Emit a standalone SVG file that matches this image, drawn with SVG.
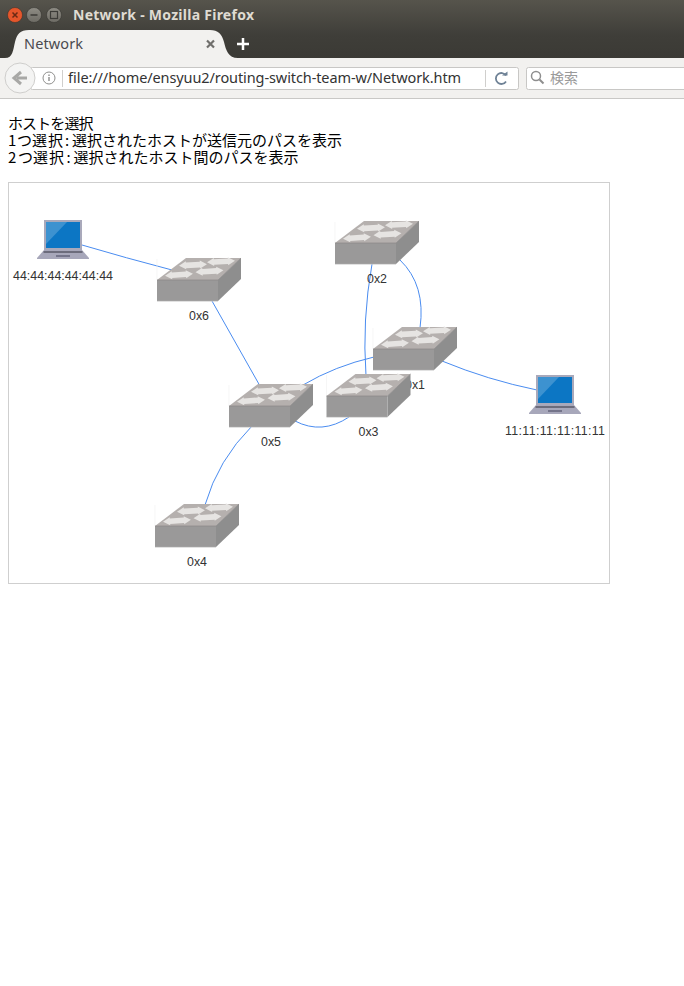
<svg xmlns="http://www.w3.org/2000/svg" width="684" height="986" viewBox="0 0 684 986">
<style>
text{font-family:"Liberation Sans",Arial,sans-serif}
.page{font-family:"Noto Sans CJK JP","Liberation Sans",sans-serif;font-size:15px;fill:#000}
.lbl{font-size:12.4px;fill:#333;text-anchor:middle}
.ui{font-family:"Noto Sans","Noto Sans CJK JP",sans-serif}
.link{fill:none;stroke:#4a8cf0;stroke-width:1}
.wb{stroke:#2f2e2a;stroke-width:.5}
</style>
<defs>
<linearGradient id="tb" x1="0" y1="0" x2="0" y2="1"><stop offset="0" stop-color="#56544c"/><stop offset=".6" stop-color="#3f3e39"/><stop offset="1" stop-color="#3b3a35"/></linearGradient>
<linearGradient id="wg" x1="0" y1="0" x2="0" y2="1"><stop offset="0" stop-color="#8f8d85"/><stop offset="1" stop-color="#6d6b64"/></linearGradient>
<polygon id="ar" points="0,0 7,-4 7,-2.800 21,-2.800 21,-4 28,0 21,4 21,2.800 7,2.800 7,4" fill="#e6e4e2"/>
<symbol id="sw" overflow="visible">
<path d="M0-21V0" stroke="#f0f0f0" stroke-width=".6" fill="none"/>
<polygon points="0,0 29,-22 84,-22 61,0" fill="#b5b0ae"/>
<polygon points="61,0 84,-22 84,-1 61,21" fill="#8e8e8e"/>
<rect x="0" y="0" width="61" height="21" fill="#9a9999"/>
<path d="M0 0H61L84-22" fill="none" stroke="#8a8686" stroke-width=".7"/>
<path d="M0 21.300H61" stroke="#c8c8c8" stroke-width=".7"/>
<use href="#ar" transform="translate(22 -14.300) rotate(-3)"/>
<use href="#ar" transform="translate(50 -17.700) rotate(-3)"/>
<use href="#ar" transform="translate(8 -4.300) rotate(-4)"/>
<use href="#ar" transform="translate(38.500 -7.700) rotate(-4)"/>
</symbol>
<symbol id="pc" overflow="visible">
<rect x="7" y="0" width="38" height="30" fill="#a9a9bb"/>
<rect x="9" y="2" width="34" height="26" fill="#0c76c4"/>
<polygon points="9,2 30,2 9,24" fill="#3d92d0"/>
<polygon points="7,30 45,30 52,38 52,39 0,39 0,38" fill="#a7a7ba"/>
<rect x="6.500" y="31" width="39" height="2" fill="#6c6c7c"/>
<rect x="19" y="35" width="14" height="2" fill="#74748a"/>
</symbol>
</defs>
<rect width="684" height="986" fill="#fff"/>
<g id="browser">
<rect width="684" height="58" fill="url(#tb)"/>
<rect y="58" width="684" height="40" fill="#f2f1ef"/>
<rect y="98" width="684" height="1" fill="#c9c8c6"/>
<path d="M0 58H5C13 58 13 50 15 42C17 34 20 30 29 30H210C218 30 222 34 224 42C226 50 228 58 238 58Z" fill="#f2f1ef"/>
<circle cx="15" cy="15" r="7.500" fill="#e5562b" class="wb"/>
<path d="M12.500 12.500l5 5M17.500 12.500l-5 5" stroke="#6b2a14" stroke-width="1.500"/>
<circle cx="34" cy="15" r="7.500" fill="url(#wg)" class="wb"/>
<path d="M30.500 15h7" stroke="#3c3b37" stroke-width="1.500"/>
<circle cx="54" cy="15" r="7.500" fill="url(#wg)" class="wb"/>
<rect x="50.500" y="11.500" width="7" height="7" fill="none" stroke="#3c3b37" stroke-width="1.200"/>
<text class="ui" x="73" y="20" font-size="14" font-weight="700" fill="#dfdbd2" textLength="181">Network - Mozilla Firefox</text>
<text class="ui" x="24" y="49" font-size="14.500" fill="#4a4a50" textLength="59">Network</text>
<path d="M207 40.500l7 7M214 40.500l-7 7" stroke="#706f6c" stroke-width="2.200"/>
<path d="M243 38v12M237 44h12" stroke="#fff" stroke-width="2.500"/>
<rect x="30.500" y="67.500" width="488" height="22" rx="2" fill="#fff" stroke="#c8c7c5"/>
<circle cx="20" cy="78" r="15" fill="#f4f4f3" stroke="#cfcecc"/>
<path d="M27 78H17M21 72l-7 6 7 6" fill="none" stroke="#a8a8a6" stroke-width="3"/>
<circle cx="49" cy="78" r="6" fill="none" stroke="#8f8f8d"/>
<path d="M49 77v4M49 74.500v1.500" stroke="#7a7a78" stroke-width="1.200"/>
<path d="M62.500 70v17M485.500 70v17" stroke="#d0cfcd"/>
<text class="ui" x="68" y="83" font-size="14.500" fill="#333" textLength="393">file:///home/ensyuu2/routing-switch-team-w/Network.htm</text>
<path d="M506 75.500A5.500 5.500 0 1 0 506 81.500" fill="none" stroke="#6f8296" stroke-width="1.800"/>
<path d="M502 75.500h5.500v-4z" fill="#6f8296"/>
<rect x="526.500" y="67.500" width="170" height="22" rx="2" fill="#fff" stroke="#c8c7c5"/>
<circle cx="536" cy="76" r="4.500" fill="none" stroke="#8e8e8e" stroke-width="1.500"/>
<path d="M539.500 79.500l4 4" stroke="#8e8e8e" stroke-width="2"/>
<text class="ui" x="550" y="83" font-size="14" fill="#9a9a9a">検索</text>
</g>
<g id="instructions">
<text class="page" x="8" y="129" textLength="85.500" lengthAdjust="spacing">ホストを選択</text>
<text class="page" x="8 17 32 48 65" y="146">1つ選択:<tspan x="72">選択されたホストが送信元のパスを表示</tspan></text>
<text class="page" x="8 18 33 49 66.500" y="163">2つ選択:<tspan x="73.500">選択されたホスト間のパスを表示</tspan></text>
</g>
<rect id="canvas" x="8.500" y="182.500" width="601" height="401" fill="#fff" stroke="#cfcfcf"/>
<g id="connectors">
<path class="link" d="M82 245Q126 258 172 270"/>
<path class="link" d="M212 301L260 386"/>
<path class="link" d="M252 426Q218 460 205 505"/>
<path class="link" d="M303 385Q335 366 374 357"/>
<path class="link" d="M295 421Q322 435 349 417"/>
<path class="link" d="M372 264Q362 320 366 376"/>
<path class="link" d="M400 260Q426 285 420 328"/>
<path class="link" d="M442 361Q488 380 537 390"/>
</g>
<g id="host-44"><use href="#pc" x="37" y="220"/><text class="lbl" x="63" y="280" textLength="100">44:44:44:44:44:44</text></g>
<g id="sw-0x6"><use href="#sw" x="157" y="280"/><text class="lbl" x="199" y="320">0x6</text></g>
<g id="sw-0x2"><use href="#sw" x="335" y="243"/><text class="lbl" x="377" y="283">0x2</text></g>
<g id="sw-0x1"><use href="#sw" x="373" y="349"/><text class="lbl" x="415" y="389">0x1</text></g>
<g id="sw-0x5"><use href="#sw" x="229" y="406"/><text class="lbl" x="271" y="446">0x5</text></g>
<g id="sw-0x3"><use href="#sw" x="326.500" y="396"/><text class="lbl" x="368.500" y="436">0x3</text></g>
<g id="sw-0x4"><use href="#sw" x="155" y="526"/><text class="lbl" x="197" y="566">0x4</text></g>
<g id="host-11"><use href="#pc" x="529" y="375"/><text class="lbl" x="555" y="435" textLength="100">11:11:11:11:11:11</text></g>
</svg>
